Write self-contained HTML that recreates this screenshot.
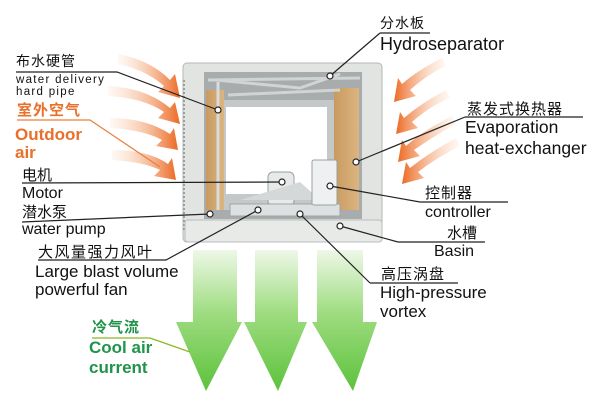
<!DOCTYPE html>
<html><head><meta charset="utf-8"><style>
html,body{margin:0;padding:0;background:#fff;width:600px;height:408px;overflow:hidden}
svg text{font-family:"Liberation Sans","Noto Sans CJK SC",sans-serif}
</style></head><body>
<svg width="600" height="408" viewBox="0 0 600 408" xmlns="http://www.w3.org/2000/svg">
<defs>
<linearGradient id="g" x1="0" y1="0" x2="0" y2="1"><stop offset="0" stop-color="#eef8e8"/><stop offset="0.45" stop-color="#9edc80"/><stop offset="1" stop-color="#5cc23c"/></linearGradient>
<linearGradient id="o" x1="0" y1="0" x2="1" y2="0"><stop offset="0" stop-color="#fde8d8" stop-opacity="0.3"/><stop offset="1" stop-color="#ec6a24"/></linearGradient>
<linearGradient id="o2" x1="1" y1="0" x2="0" y2="0"><stop offset="0" stop-color="#fde8d8" stop-opacity="0.3"/><stop offset="1" stop-color="#ec6a24"/></linearGradient>
<linearGradient id="pad" x1="0" y1="0" x2="1" y2="0"><stop offset="0" stop-color="#c89a60"/><stop offset="1" stop-color="#dcb580"/></linearGradient>
</defs>
<g fill="url(#g)">
<path d="M193 250 L237 250 L237 322 L242 322 L206 391 L176 322 L193 322Z"/>
<path d="M255 250 L298 250 L298 322 L307 322 L278 391 L244 322 L255 322Z"/>
<path d="M317 250 L363 250 L363 322 L377 322 L353 391 L312 322 L317 322Z"/>
</g>
<rect x="183" y="63" width="199" height="179" rx="4" fill="#e2e4e2" stroke="#b4b8b8"/>
<path d="M184 80 l0 150" stroke="#9aa0a0" stroke-width="2" stroke-dasharray="2 2"/>
<rect x="204" y="72" width="158" height="147" fill="#a8acac"/>
<rect x="206" y="90" width="18" height="120" fill="url(#pad)"/>
<rect x="334" y="88" width="25" height="122" fill="url(#pad)"/>
<rect x="224" y="100" width="110" height="110" fill="#c4c8c8"/>
<rect x="226" y="107" width="101" height="87" fill="#fff"/>
<path d="M208 80 L360 78 M216 80 L300 88 L340 74 M228 95 L340 90" stroke="#d0d4d4" stroke-width="3" fill="none"/>
<path d="M218 82 L218 210" stroke="#d8dcdc" stroke-width="3"/>
<rect x="185" y="220" width="197" height="22" rx="3" fill="#e8eae8" stroke="#b8bcbc"/>
<rect x="268" y="172" width="26" height="34" rx="5" fill="#e8eaea" stroke="#9aa0a0"/>
<path d="M240 200 L300 182 L320 200Z" fill="#d4d8d8"/>
<rect x="230" y="204" width="110" height="12" fill="#dde0e0" stroke="#a0a4a4"/>
<rect x="312" y="160" width="25" height="45" rx="2" fill="#eef0f2" stroke="#98a0a0"/>
<g fill="url(#o)">
<path d="M118 54 Q150 60 170 80 L175 74 L180 98 L158 92 L164 86 Q146 70 118 64Z"/>
<path d="M108 86 Q146 88 170 108 L175 102 L180 124 L158 118 L164 112 Q144 98 108 96Z"/>
<path d="M110 118 Q146 118 170 134 L174 128 L178 150 L156 146 L162 140 Q144 130 110 128Z"/>
<path d="M112 150 Q148 150 168 164 L172 158 L176 180 L154 176 L160 170 Q144 162 112 160Z"/>
</g>
<g fill="url(#o2)">
<path d="M442 58 Q418 70 402 84 L398 78 L394 102 L416 96 L410 90 Q428 74 446 66Z"/>
<path d="M446 90 Q420 104 404 118 L400 112 L396 134 L418 128 L412 122 Q430 106 450 98Z"/>
<path d="M452 116 Q424 130 406 146 L402 140 L398 162 L420 156 L414 150 Q434 136 456 124Z"/>
<path d="M456 138 Q430 152 410 168 L406 162 L402 184 L424 178 L418 172 Q436 158 460 146Z"/>
</g>
<g stroke="#222" stroke-width="1.2" fill="none">
<path d="M16 72 L117 72 L218 110"/>
<path d="M22 183 L282 182"/>
<path d="M22 222 L210 214"/>
<path d="M38 260 L166 260 L258 210"/>
<path d="M380 33 L430 33 M380 33 L330 76"/>
<path d="M465 117 L583 117 M465 117 L356 162"/>
<path d="M420 202 L508 202 M420 202 L330 186"/>
<path d="M398 242 L485 242 M398 242 L340 226"/>
<path d="M370 283 L458 283 M370 283 L300 214"/>
</g>
<path d="M17 120 L90 120 L160 167" stroke="#e8803a" stroke-width="1.2" fill="none"/>
<path d="M92 338 L150 338 L190 352" stroke="#8ab820" stroke-width="1.2" fill="none"/>
<g fill="#fff" stroke="#222" stroke-width="1.2"><circle cx="218" cy="110" r="3"/><circle cx="282" cy="182" r="3"/><circle cx="210" cy="214" r="3"/><circle cx="258" cy="210" r="3"/><circle cx="330" cy="76" r="3"/><circle cx="356" cy="162" r="3"/><circle cx="330" cy="186" r="3"/><circle cx="340" cy="226" r="3"/><circle cx="300" cy="214" r="3"/></g>
<g fill="#111">
<text x="16" y="66" font-size="14" letter-spacing="1">布水硬管</text>
<text x="16" y="83" font-size="11.5" letter-spacing="1.3">water delivery</text>
<text x="16" y="95" font-size="11.5" letter-spacing="1.3">hard pipe</text>
<text x="22" y="180" font-size="15">电机</text>
<text x="22" y="198" font-size="16">Motor</text>
<text x="22" y="217" font-size="15">潜水泵</text>
<text x="22" y="234" font-size="16">water pump</text>
<text x="38" y="257" font-size="15" letter-spacing="1.5">大风量强力风叶</text>
<text x="35" y="277" font-size="17">Large blast volume</text>
<text x="35" y="295" font-size="17">powerful fan</text>
<text x="380" y="28" font-size="14" letter-spacing="1">分水板</text>
<text x="380" y="50" font-size="18">Hydroseparator</text>
<text x="467" y="114" font-size="15" letter-spacing="1">蒸发式换热器</text>
<text x="465" y="133" font-size="17.5">Evaporation</text>
<text x="465" y="154" font-size="17.5">heat-exchanger</text>
<text x="425" y="198" font-size="15" letter-spacing="1">控制器</text>
<text x="425" y="217" font-size="16">controller</text>
<text x="447" y="238" font-size="15">水槽</text>
<text x="434" y="256" font-size="16">Basin</text>
<text x="381" y="279" font-size="15" letter-spacing="1">高压涡盘</text>
<text x="380" y="298" font-size="17">High-pressure</text>
<text x="380" y="317" font-size="17">vortex</text>
</g>
<g fill="#e8702a" font-weight="bold">
<text x="17" y="115" font-size="15" letter-spacing="1">室外空气</text>
<text x="15" y="140" font-size="17">Outdoor</text>
<text x="15" y="158" font-size="17">air</text>
</g>
<g fill="#1f944a" font-weight="bold">
<text x="92" y="332" font-size="15" letter-spacing="1">冷气流</text>
<text x="89" y="353" font-size="17">Cool air</text>
<text x="89" y="373" font-size="17">current</text>
</g>
</svg>
</body></html>
